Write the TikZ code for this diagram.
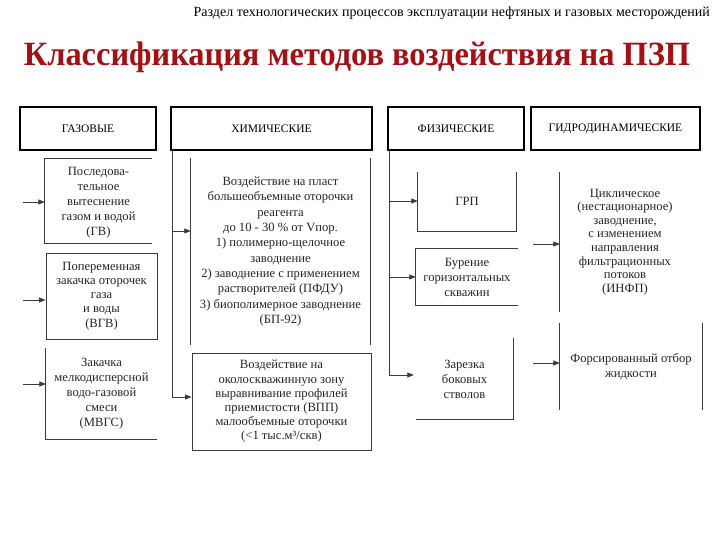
\documentclass[tikz,border=0pt]{standalone}
\usepackage{fontspec}
\setmainfont{Liberation Serif}
\usetikzlibrary{arrows.meta}
\definecolor{titlered}{RGB}{165,16,20}
\definecolor{lineg}{RGB}{60,60,60}
\tikzset{
  hdr/.style={draw=black, line width=2.4pt, minimum height=43pt, inner sep=0pt, font=\fontsize{11.5}{13}\selectfont, anchor=center},
  txt/.style={inner sep=0pt, align=center, font=\fontsize{12.6}{15}\selectfont, text=black!85},
  edge/.style={draw=lineg, line width=0.8pt},
  conn/.style={draw=lineg, line width=0.8pt},
  arr/.style={conn, -{Triangle[length=6.5pt,width=5pt]}}
}
\begin{document}
\begin{tikzpicture}[x=1pt,y=-1pt]
\useasboundingbox[fill=white] (0,0) rectangle (720,540);
% heading texts
\node[anchor=base east, font=\fontsize{14}{16}\selectfont, inner sep=0pt] (sect) at (710,17) {Раздел технологических процессов эксплуатации нефтяных и газовых месторождений};
\node[anchor=base, font=\fontsize{34}{40}\selectfont\bfseries, text=titlered, inner sep=0pt, xscale=0.953] (title) at (357,66) {Классификация методов воздействия на ПЗП};
% column headers
\node[hdr, minimum width=136pt] (gaz) at (88,128.5) {ГАЗОВЫЕ};
\node[hdr, minimum width=201pt] (chem) at (271.5,128.5) {ХИМИЧЕСКИЕ};
\node[hdr, minimum width=136pt] (phys) at (456,128.5) {ФИЗИЧЕСКИЕ};
\node[hdr, minimum width=169pt] (hydro) at (615.5,128.5) {ГИДРОДИНАМИЧЕСКИЕ};
% gas boxes
\node[txt, minimum width=107pt, minimum height=84pt] (gv) at (98.5,201) {};
\node[txt] (gvt) at (98.5,203) {Последова-\\тельное\\вытеснение\\газом и водой\\(ГВ)};
\draw[edge] (gv.north east) -- (gv.north west) -- (gv.south west) -- (gv.south east);
\node[txt, font=\fontsize{12.6}{14.2}\selectfont, minimum width=111pt, minimum height=86pt, draw=lineg, line width=0.8pt] (vgv) at (101.5,296) {Попеременная\\закачка оторочек\\газа\\и воды\\(ВГВ)};
\node[txt, minimum width=111pt, minimum height=91pt] (mvgs) at (101.5,393.5) {Закачка\\мелкодисперсной\\водо-газовой\\смеси\\(МВГС)};
\draw[edge] (mvgs.north west) -- (mvgs.south west) -- (mvgs.south east);
\coordinate (g1) at (23,202);
\coordinate (g2) at (23,300);
\coordinate (g3) at (23,384);
\draw[arr] (g1) -- (gv.west |- g1);
\draw[arr] (g2) -- (vgv.west |- g2);
\draw[arr] (g3) -- (mvgs.west |- g3);
% chemical boxes
\node[txt, font=\fontsize{12.6}{15.3}\selectfont, minimum width=179pt, minimum height=187pt] (chA) at (280.5,251.5) {Воздействие на пласт\\большеобъемные оторочки\\реагента\\до 10 - 30 \% от Vпор.\\1) полимерно-щелочное\\заводнение\\2) заводнение с применением\\растворителей (ПФДУ)\\3) биополимерное заводнение\\(БП-92)};
\draw[edge] (chA.north west) -- (chA.south west);
\draw[edge] (chA.north east) -- (chA.south east);
\node[txt, font=\fontsize{12.6}{14.2}\selectfont, minimum width=179pt, minimum height=97pt, draw=lineg, line width=0.8pt] (chB) at (281.5,401.5) {Воздействие на\\околоскважинную зону\\выравнивание профилей\\приемистости (ВПП)\\малообъемные оторочки\\(<1 тыс.м³/скв)};
\coordinate (c0) at (172,150);
\coordinate (c1) at (172,231);
\coordinate (c2) at (172,397);
\draw[conn] (c0) -- (c2);
\draw[arr] (c1) -- (chA.west |- c1);
\draw[arr] (c2) -- (chB.west |- c2);
% physical boxes
\node[txt, minimum width=98pt, minimum height=59pt] (grp) at (467,201.5) {ГРП};
\draw[edge] (grp.north west) -- (grp.south west) -- (grp.south east) -- (grp.north east);
\node[txt, minimum width=102pt, minimum height=56pt] (bur) at (467,277) {Бурение\\горизонтальных\\скважин};
\draw[edge] (bur.north east) -- (bur.north west) -- (bur.south west) -- (bur.south east);
\node[txt, minimum width=97pt, minimum height=81pt] (zar) at (464.5,379) {Зарезка\\боковых\\стволов};
\draw[edge] (zar.north east) -- (zar.south east) -- (zar.south west);
\coordinate (p0) at (389,150);
\coordinate (p1) at (389,201);
\coordinate (p2) at (389,277);
\coordinate (p3) at (389,375);
\draw[conn] (p0) -- (p3);
\draw[arr] (p1) -- (grp.west |- p1);
\draw[arr] (p2) -- (bur.west |- p2);
\draw[arr] (p3) -- ([xshift=-2pt]zar.west |- p3);
% hydrodynamic boxes
\node[txt, font=\fontsize{12.6}{13.6}\selectfont, minimum width=130pt, minimum height=140pt] (infp) at (625,242) {Циклическое\\(нестационарное)\\заводнение,\\с изменением\\направления\\фильтрационных\\потоков\\(ИНФП)};
\draw[edge] (infp.north west) -- (infp.south west);
\node[txt, minimum width=142pt, minimum height=87pt] (fors) at (631,366.5) {Форсированный отбор\\жидкости};
\draw[edge] (fors.north west) -- (fors.south west);
\draw[edge] (fors.north east) -- (fors.south east);
\coordinate (h1) at (533,244);
\coordinate (h2) at (533,363);
\draw[arr] (h1) -- (infp.west |- h1);
\draw[arr] (h2) -- (fors.west |- h2);
\end{tikzpicture}
\end{document}
